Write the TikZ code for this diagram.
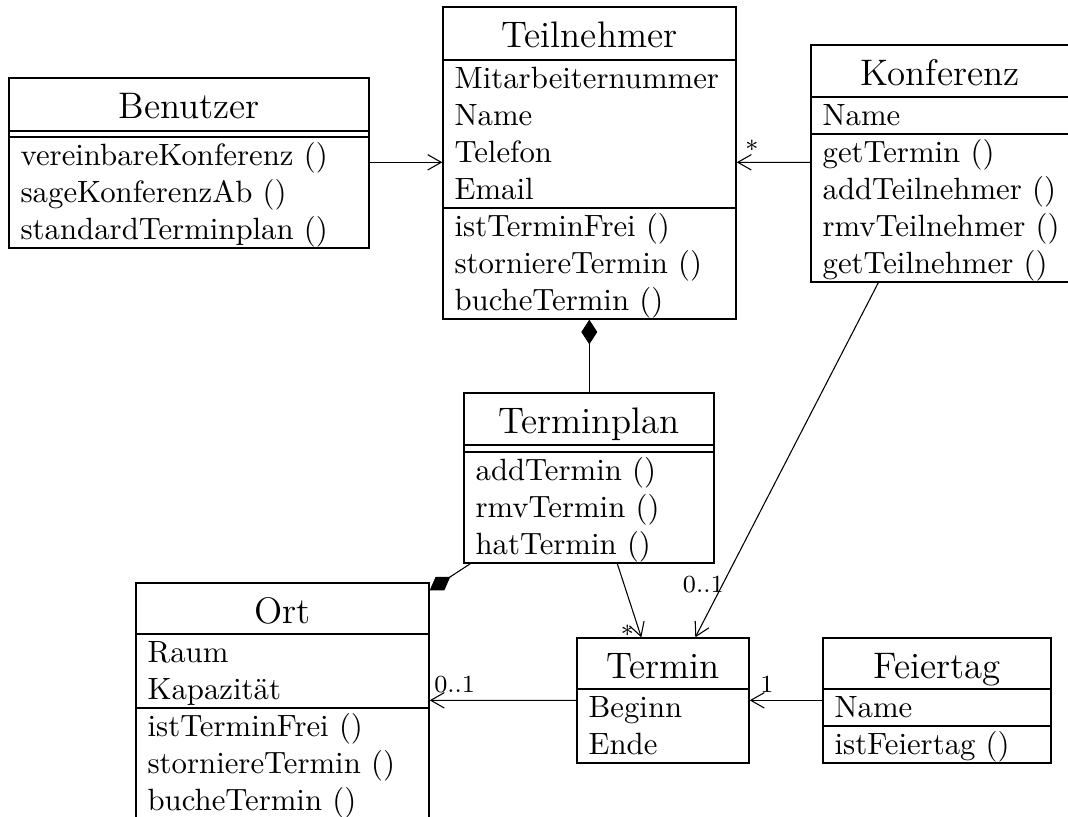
\documentclass[tikz,border=0pt]{standalone}
\usetikzlibrary{arrows.meta,calc,fit}

% one line of a class compartment per entry, 37 units apart
\newcommand\classrows[4]{%
  \foreach \txt [count=\i] in {#4}
    \node[rowtext] (#1\i) at ({#2+11},{#3+37*(\i-1)}) {\txt};%
}

\begin{document}
\begin{tikzpicture}[x=0.325pt,y=-0.325pt,
  classbox/.style={draw, line width=0.45pt, inner sep=0pt},
  sepline/.style={line width=0.45pt},
  classname/.style={anchor=base, font=\large, inner sep=0pt},
  rowtext/.style={anchor=base west, inner sep=0pt},
  mult/.style={anchor=base west, font=\footnotesize, inner sep=0pt},
  assoc/.style={line width=0.35pt, -{Straight Barb[length=4.4pt,width=5pt]}},
  comp/.style={line width=0.35pt, -{Diamond[length=8pt,width=5.2pt]}},
]
\useasboundingbox (0,0) rectangle (1068,816);

% Benutzer
\node[classbox, fit={(9,78) (369,248)}] (ben) {};
\node[classname] (ben-t) at (189,118) {Benutzer};
\draw[sepline] (9,131) -- (369,131);
\draw[sepline] (9,137) -- (369,137);
\classrows{ben-m}{9}{165}{vereinbareKonferenz (),sageKonferenzAb (),standardTerminplan ()}

% Teilnehmer
\node[classbox, fit={(443,7) (736,319)}] (teil) {};
\node[classname] (teil-t) at (589.5,47) {Teilnehmer};
\draw[sepline] (443,60) -- (736,60);
\draw[sepline] (443,208) -- (736,208);
\classrows{teil-a}{443}{88}{Mitarbeiternummer,Name,Telefon,Email}
\classrows{teil-m}{443}{236}{istTerminFrei (),storniereTermin (),bucheTermin ()}

% Konferenz
\node[classbox, fit={(811,45) (1070,282)}] (konf) {};
\node[classname] (konf-t) at (940,85) {Konferenz};
\draw[sepline] (811,97) -- (1070,97);
\draw[sepline] (811,134) -- (1070,134);
\classrows{konf-a}{811}{125}{Name}
\classrows{konf-m}{811}{162}{getTermin (),addTeilnehmer (),rmvTeilnehmer (),getTeilnehmer ()}

% Terminplan
\node[classbox, fit={(464,393) (714,563)}] (tplan) {};
\node[classname] (tplan-t) at (589,433) {Terminplan};
\draw[sepline] (464,445) -- (714,445);
\draw[sepline] (464,452) -- (714,452);
\classrows{tplan-m}{464}{480}{addTermin (),rmvTermin (),hatTermin ()}

% Ort
\node[classbox, fit={(136,583) (429,819)}] (ort) {};
\node[classname] (ort-t) at (282.5,623) {Ort};
\draw[sepline] (136,634) -- (429,634);
\draw[sepline] (136,708) -- (429,708);
\classrows{ort-a}{136}{662}{Raum,Kapazität}
\classrows{ort-m}{136}{736}{istTerminFrei (),storniereTermin (),bucheTermin ()}

% Termin
\node[classbox, fit={(577,638) (749,763)}] (termin) {};
\node[classname] (termin-t) at (663,678) {Termin};
\draw[sepline] (577,689) -- (749,689);
\classrows{termin-a}{577}{717}{Beginn,Ende}

% Feiertag
\node[classbox, fit={(823,638) (1051,763)}] (feier) {};
\node[classname] (feier-t) at (937,678) {Feiertag};
\draw[sepline] (823,689) -- (1051,689);
\draw[sepline] (823,726) -- (1051,726);
\classrows{feier-a}{823}{717}{Name}
\classrows{feier-m}{823}{754}{istFeiertag ()}

% associations
\draw[assoc] ($(ben.north east)+(0,85)$) -- ($(teil.north west)+(0,156)$);
\draw[assoc] ($(konf.north west)+(0,118)$) -- ($(teil.north east)+(0,156)$);
\node[mult] (m-teil) at ($(teil.north east)+(8,152)$) {*};
\draw[assoc] ($(tplan.south west)+(154,0)$) -- ($(termin.north west)+(65,0)$);
\node[mult] (m-tplan) at ($(termin.north west)+(44,6)$) {*};
\draw[assoc] ($(konf.south west)+(68,0)$) -- ($(termin.north west)+(119,0)$);
\node[mult] (m-konf) at ($(termin.north west)+(106,-45)$) {0..1};
\draw[assoc] ($(termin.north west)+(0,63)$) -- ($(ort.north east)+(0,118)$);
\node[mult] (m-ort) at ($(ort.north east)+(4,110)$) {0..1};
\draw[assoc] ($(feier.north west)+(0,63)$) -- ($(termin.north east)+(0,63)$);
\node[mult] (m-feier) at ($(termin.north east)+(10,55)$) {1};

% compositions
\draw[comp] ($(tplan.north west)+(126,0)$) -- ($(teil.south west)+(147,0)$);
\draw[comp] ($(tplan.south west)+(7,0)$) -- ($(ort.north east)+(0,8)$);
\end{tikzpicture}
\end{document}
